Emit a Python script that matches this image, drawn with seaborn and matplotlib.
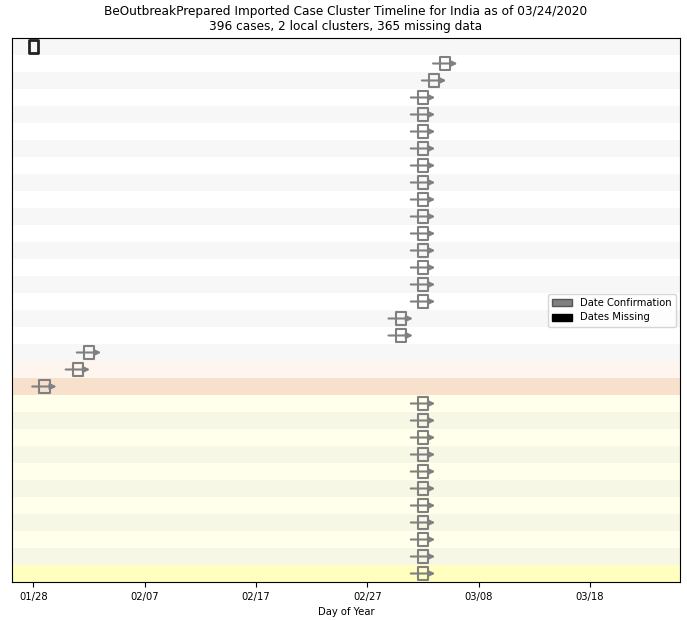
import matplotlib
matplotlib.use("Agg")
import matplotlib.pyplot as plt
import matplotlib.dates as mdates
from matplotlib.path import Path
from matplotlib.patches import Patch
import seaborn as sns
import pandas as pd
import numpy as np

# ---------------- data ----------------
rows = list(range(32))
dates = (["2020-01-28", "2020-03-05", "2020-03-04"]
         + ["2020-03-03"] * 13
         + ["2020-03-01"] * 2
         + ["2020-02-02", "2020-02-01", "2020-01-29"]
         + ["2020-03-03"] * 11)
status = ["Dates Missing"] + ["Date Confirmation"] * 31
cluster = ["none"] * 19 + ["c1", "c1_head"] + ["c2"] * 10 + ["c2_head"]
tick_dates = ["2020-01-28", "2020-02-07", "2020-02-17", "2020-02-27", "2020-03-08", "2020-03-18"]
title = ("BeOutbreakPrepared Imported Case Cluster Timeline for India as of 03/24/2020\n"
         "396 cases, 2 local clusters, 365 missing data")

# background colours per cluster: (odd row, even row)
band_colors = {
    "none": ("#ffffff", "#f7f7f7"),
    "c1": ("#fdf5ee", "#f7efe8"),
    "c1_head": ("#fbe6d3", "#f7e1cd"),
    "c2": ("#ffffeb", "#f7f7e5"),
    "c2_head": ("#ffffc0", "#f7f7ba"),
}

df = pd.DataFrame({"row": rows, "date": pd.to_datetime(dates), "status": status, "cluster": cluster})

# ---------------- figure ----------------
fig = plt.figure(figsize=(6.87, 6.2), dpi=100)
ax = fig.add_axes([12 / 687, 1 - 582 / 620, 668 / 687, 544 / 620])

for r, c in zip(df["row"], df["cluster"]):
    col = band_colors[c][0] if r % 2 else band_colors[c][1]
    ax.axhspan(r - 0.5, r + 0.5, color=col, lw=0, zorder=0)

rect = Path([(-0.75, -1), (0.75, -1), (0.75, 1), (-0.75, 1), (-0.75, -1)],
            [Path.MOVETO, Path.LINETO, Path.LINETO, Path.LINETO, Path.CLOSEPOLY])

conf = df[df["status"] == "Date Confirmation"]
miss = df[df["status"] == "Dates Missing"]

one_day = pd.Timedelta(days=1.1)
for d, r in zip(conf["date"], conf["row"]):
    ax.annotate("", xy=(mdates.date2num(d + one_day), r),
                xytext=(mdates.date2num(d - one_day), r),
                arrowprops=dict(arrowstyle="-|>,head_length=0.35,head_width=0.17",
                                color="gray", lw=1.5, shrinkA=0, shrinkB=0),
                zorder=3)

sns.scatterplot(data=conf, x="date", y="row", marker=rect, s=95, color="gray",
                facecolor="none", edgecolor="gray", linewidth=1.5, ax=ax, zorder=4,
                legend=False)
sns.scatterplot(data=miss, x="date", y="row", marker=rect, s=85, color="#222222",
                facecolor="none", edgecolor="#222222", linewidth=2.0, ax=ax, zorder=4,
                legend=False)

ax.set_ylim(31.5, -0.5)
ax.set_yticks([])
ax.set_ylabel("")
ax.set_xlim(mdates.date2num(pd.Timestamp("2020-01-26 02:00")),
            mdates.date2num(pd.Timestamp("2020-03-26 02:00")))
ax.set_xticks(mdates.date2num(pd.to_datetime(tick_dates)))
ax.xaxis.set_major_formatter(mdates.DateFormatter("%m/%d"))
ax.tick_params(axis="x", labelsize=7.2)
ax.set_xlabel("Day of Year", fontsize=7.2)
ax.set_title(title, fontsize=8.7)

handles = [Patch(facecolor="gray", edgecolor="#555555", label="Date Confirmation"),
           Patch(facecolor="black", edgecolor="black", label="Dates Missing")]
ax.legend(handles=handles, loc="center right", fontsize=7.2, borderaxespad=0.4)

fig.savefig("out.png", dpi=100)
